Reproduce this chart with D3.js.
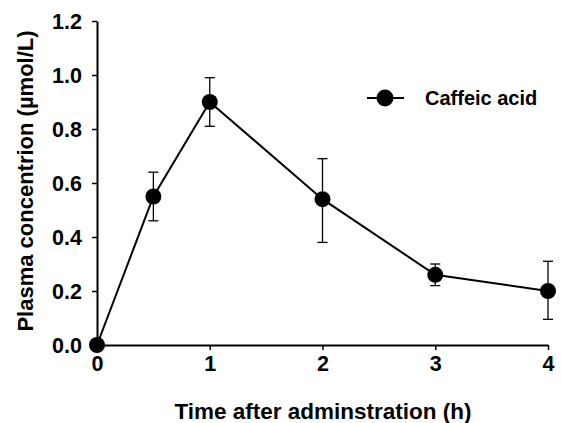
<!DOCTYPE html>
<html>
<head>
<meta charset="utf-8">
<script src="https://cdn.jsdelivr.net/npm/d3@7"></script>
<style>
  html, body { margin: 0; padding: 0; background: #fff; }
  svg text { font-family: Arial, "Liberation Sans", sans-serif; font-weight: bold; fill: #000; }
</style>
</head>
<body>
<svg id="chart" width="561" height="423"></svg>
<script>
const times = [0, 0.5, 1, 2, 3, 4];
const concentration = [0.0, 0.55, 0.90, 0.54, 0.26, 0.20];
const errUpper = [0.0, 0.64, 0.99, 0.69, 0.30, 0.31];
const errLower = [0.0, 0.46, 0.81, 0.38, 0.22, 0.095];
const xTicks = [0, 1, 2, 3, 4];
const yTicks = [0.0, 0.2, 0.4, 0.6, 0.8, 1.0, 1.2];
const seriesName = "Caffeic acid";
const xTitle = "Time after adminstration (h)";
const yTitle = "Plasma concentrion (\u00b5mol/L)";

const svg = d3.select("#chart");
const x = d3.scaleLinear().domain([0, 4]).range([97, 548]);
const y = d3.scaleLinear().domain([0, 1.2]).range([345, 21]);

// axes
const xAxis = svg.append("g").attr("transform", `translate(0,${y(0)})`)
  .call(d3.axisBottom(x).tickValues(xTicks).tickFormat(d3.format("d")).tickSize(5).tickSizeOuter(0).tickPadding(6));
const yAxis = svg.append("g").attr("transform", `translate(${x(0)},0)`)
  .call(d3.axisLeft(y).tickValues(yTicks).tickFormat(d3.format(".1f")).tickSize(5).tickSizeOuter(0).tickPadding(10));
[xAxis, yAxis].forEach(g => {
  g.select(".domain").attr("stroke", "#000").attr("stroke-width", 2);
  g.selectAll(".tick line").attr("stroke", "#000").attr("stroke-width", 1.5);
  g.selectAll(".tick text").style("font-size", "21.5px").style("font-weight", "bold").attr("fill", "#000")
   .style("font-family", "Arial, 'Liberation Sans', sans-serif");
});
xAxis.selectAll(".tick text").attr("dy", "0.71em");
yAxis.selectAll(".tick text").attr("dy", "0.36em");

// error bars
const data = times.map((t, i) => ({t, v: concentration[i], hi: errUpper[i], lo: errLower[i]}));
const eb = svg.append("g").attr("stroke", "#000").attr("stroke-width", 1.3);
data.filter(d => d.hi > d.lo).forEach(d => {
  eb.append("line").attr("x1", x(d.t)).attr("x2", x(d.t)).attr("y1", y(d.hi)).attr("y2", y(d.lo));
  eb.append("line").attr("x1", x(d.t) - 5).attr("x2", x(d.t) + 5).attr("y1", y(d.hi)).attr("y2", y(d.hi));
  eb.append("line").attr("x1", x(d.t) - 5).attr("x2", x(d.t) + 5).attr("y1", y(d.lo)).attr("y2", y(d.lo));
});

// line
svg.append("path").datum(data)
  .attr("fill", "none").attr("stroke", "#000").attr("stroke-width", 2)
  .attr("d", d3.line().x(d => x(d.t)).y(d => y(d.v)));

// markers
svg.append("g").selectAll("circle").data(data).join("circle")
  .attr("cx", d => x(d.t)).attr("cy", d => y(d.v)).attr("r", 8).attr("fill", "#000");

// legend
const lg = svg.append("g");
lg.append("line").attr("x1", 367).attr("x2", 404).attr("y1", 98).attr("y2", 98).attr("stroke", "#000").attr("stroke-width", 2);
lg.append("circle").attr("cx", 385).attr("cy", 98).attr("r", 8.5).attr("fill", "#000");
lg.append("text").attr("x", 425).attr("y", 105).style("font-size", "20px").text(seriesName);

// axis titles
svg.append("text").attr("x", 323).attr("y", 419).attr("text-anchor", "middle").style("font-size", "22.5px").text(xTitle);
svg.append("text").attr("transform", "translate(33,181) rotate(-90)").attr("text-anchor", "middle").style("font-size", "22px").text(yTitle);
</script>
</body>
</html>
